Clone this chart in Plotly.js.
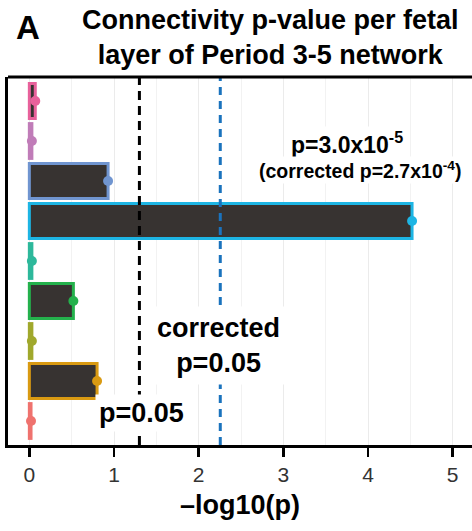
<!DOCTYPE html>
<html>
<head>
<meta charset="utf-8">
<script src="https://cdn.plot.ly/plotly-3.0.1.min.js"></script>
<style>html,body{margin:0;padding:0;background:#fff;}#chart{width:472px;height:531px;}</style>
</head>
<body>
<div id="chart"></div>
<script>
// Layers, bottom to top
const categories = ['CPi', 'CPo', 'IZ', 'MZ', 'SG', 'SP', 'SZi', 'SZo', 'VZ'];
const values = [0.02, 0.80, 0.03, 0.52, 0.03, 4.52, 0.93, 0.03, 0.07];
const colors = ['#EF726E', '#D99A12', '#A0A82C', '#24B14C', '#2DB89B', '#1DB5E4', '#7095D0', '#C07CB8', '#E8619B'];
const thresholdP = 1.30;          // -log10(0.05)
const thresholdCorrected = 2.255; // -log10(0.05/9)
const xTicks = [0, 1, 2, 3, 4, 5];

const font = 'Liberation Sans, Arial, Helvetica, sans-serif';

const bars = {
  type: 'bar', orientation: 'h',
  x: values, y: categories,
  width: 0.87,
  marker: { color: '#373331', line: { color: colors, width: 3 } },
  hoverinfo: 'skip', showlegend: false
};
const dots = {
  type: 'scatter', mode: 'markers',
  x: values, y: categories,
  marker: { color: colors, size: 10 },
  cliponaxis: false,
  hoverinfo: 'skip', showlegend: false
};

const layout = {
  width: 472, height: 531,
  margin: { l: 8, r: 0, t: 77, b: 86 },
  paper_bgcolor: '#fff', plot_bgcolor: '#fff',
  font: { family: font, color: '#000' },
  bargap: 0,
  xaxis: {
    range: [-0.252, 5.228],
    tickvals: xTicks, ticktext: xTicks.map(String),
    ticks: 'outside', ticklen: 9, tickwidth: 2.5, tickcolor: '#000',
    tickfont: { size: 21, color: '#333' },
    showline: true, linewidth: 3, linecolor: '#000',
    showgrid: true, gridcolor: '#EBEBEB', gridwidth: 1,
    minor: { dtick: 0.5, tick0: 0, showgrid: true, gridcolor: '#F2F2F2', gridwidth: 1, ticks: '' },
    zeroline: false,
    title: { text: '–log10(p)', font: { size: 27, weight: 'bold', color: '#000' }, standoff: 10 }
  },
  yaxis: {
    type: 'category', categoryarray: categories,
    range: [-0.6, 8.6],
    showticklabels: false, ticks: '',
    showgrid: false, zeroline: false,
    showline: true, linewidth: 3, linecolor: '#000'
  },
  shapes: [
    { type: 'line', xref: 'x', yref: 'paper', x0: thresholdP, x1: thresholdP, y0: 0, y1: 1,
      layer: 'above', line: { color: '#000', width: 3, dash: '9px,6px' } },
    { type: 'line', xref: 'x', yref: 'paper', x0: thresholdCorrected, x1: thresholdCorrected, y0: 0, y1: 1,
      layer: 'above', line: { color: '#1A73BD', width: 3, dash: '8px,6px' } },
    { type: 'line', xref: 'paper', yref: 'paper', x0: 0, x1: 1, y0: 1, y1: 1,
      layer: 'above', line: { color: '#000', width: 3 } }
  ],
  annotations: [
    { xref: 'paper', yref: 'paper', x: 0.566, y: 1.106, xanchor: 'center', yanchor: 'middle',
      text: 'Connectivity p-value per fetal<br>layer of Period 3-5 network',
      showarrow: false, font: { size: 27, weight: 'bold' } },
    { xref: 'paper', yref: 'paper', x: 0.012, y: 1.135, xanchor: 'left', yanchor: 'middle',
      text: 'A', showarrow: false, font: { size: 33, weight: 'bold' } },
    { xref: 'x', yref: 'y', x: 3.75, y: 6.95, text: 'p=3.0x10<sup>-5</sup>',
      showarrow: false, font: { size: 23, weight: 'bold' }, bgcolor: '#fff' },
    { xref: 'x', yref: 'y', x: 3.9, y: 6.28, text: '(corrected p=2.7x10<sup>-4</sup>)',
      showarrow: false, font: { size: 19.5, weight: 'bold' }, bgcolor: '#fff' },
    { xref: 'x', yref: 'y', x: 2.23, y: 1.9, text: 'corrected<br>p=0.05',
      showarrow: false, font: { size: 27, weight: 'bold' }, bgcolor: '#fff', borderpad: 6 },
    { xref: 'x', yref: 'y', x: 1.32, y: 0.2, text: 'p=0.05',
      showarrow: false, font: { size: 27, weight: 'bold' }, bgcolor: '#fff', borderpad: 3 }
  ]
};

Plotly.newPlot('chart', [bars, dots], layout, { displayModeBar: false, staticPlot: true });
</script>
</body>
</html>
